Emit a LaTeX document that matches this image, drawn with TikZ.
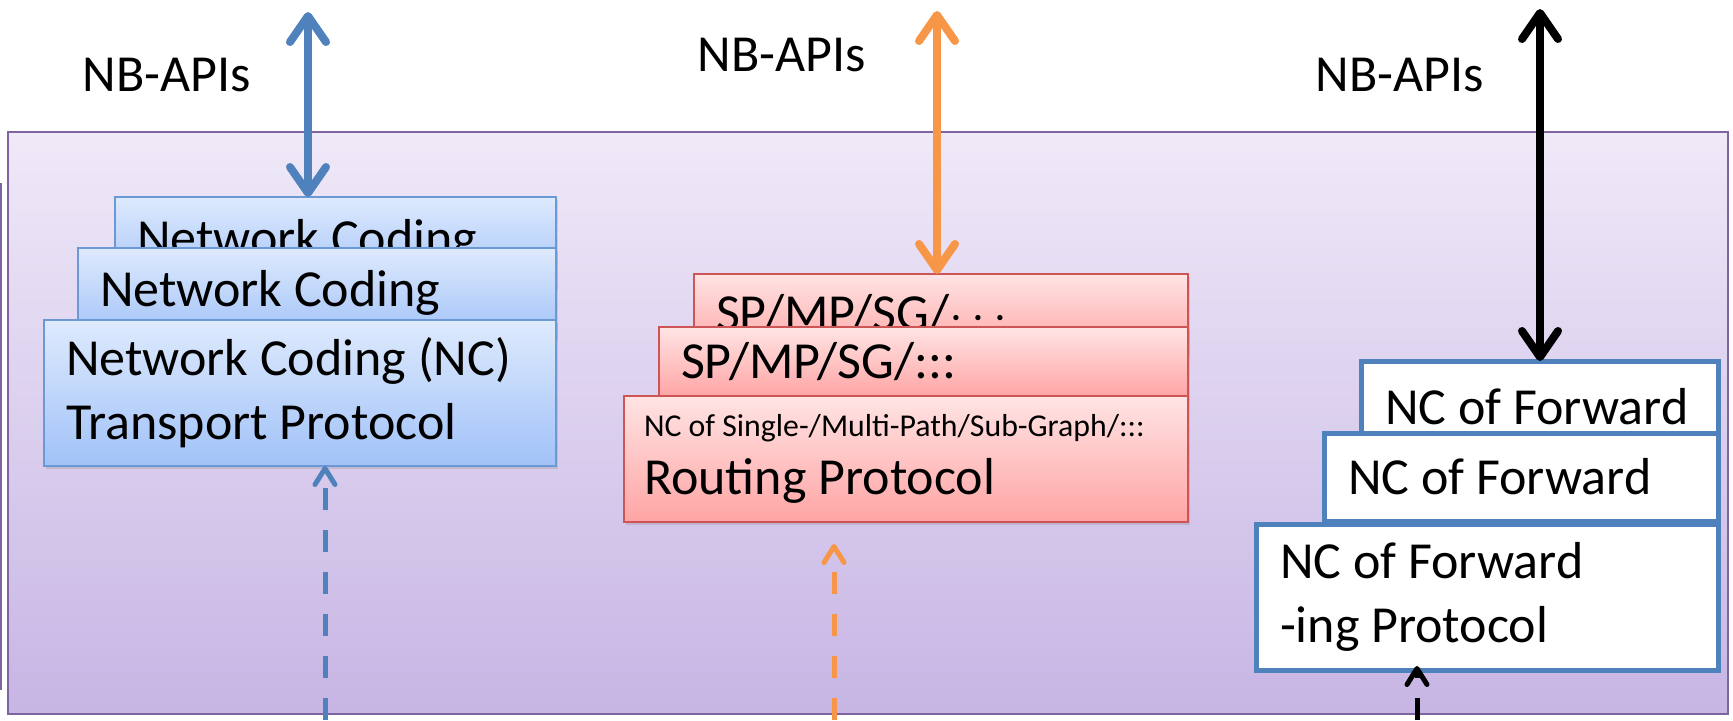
\documentclass[tikz,border=0pt]{standalone}
\usepackage{fontspec}
\setmainfont{Carlito}
\usetikzlibrary{arrows.meta,shadows}
\definecolor{ncblue}{HTML}{4F81BD}
\definecolor{ncorange}{HTML}{F79646}
\definecolor{ncpurple}{HTML}{8064A2}
\definecolor{paneltop}{RGB}{239,233,248}
\definecolor{panelbot}{RGB}{199,181,228}
\definecolor{bluetop}{RGB}{222,234,253}
\definecolor{bluebot}{RGB}{161,194,248}
\definecolor{blueedge}{RGB}{108,152,212}
\definecolor{redtop}{RGB}{255,228,228}
\definecolor{redbot}{RGB}{255,164,164}
\definecolor{rededge}{RGB}{205,85,85}
\newcommand\ncfont{\fontsize{26}{32}\selectfont\hyphenpenalty=10000\relax}
\begin{document}
\begin{tikzpicture}[x=0.5pt, y=-0.5pt,
        font=\ncfont,
        panel/.style={draw=ncpurple, line width=1pt, top color=paneltop, bottom color=panelbot},
        stk/.style={anchor=north west, align=flush left, inner xsep=11pt, inner ysep=0, outer sep=0},
        tp/.style={stk, draw=blueedge, line width=1pt, top color=bluetop, bottom color=bluebot,
            drop shadow={shadow xshift=1pt, shadow yshift=-1.5pt, opacity=.25}},
        rp/.style={stk, draw=rededge, line width=1pt, top color=redtop, bottom color=redbot,
            drop shadow={shadow xshift=1pt, shadow yshift=-1.5pt, opacity=.25}},
        fp/.style={stk, draw=ncblue, line width=2.5pt, fill=white, inner xsep=12pt},
        api/.style={line width=4pt,
            {Straight Barb[length=13pt, width=18pt, round]}-{Straight Barb[length=13pt, width=18pt, round]}},
        feed/.style={line width=2.5pt, dash pattern=on 11pt off 10pt,
            -{Straight Barb[length=8pt, width=10pt, round]}},
    ]
    \useasboundingbox (0,0) rectangle (1733,720);
    \draw[panel] (8,132) rectangle (1728,714);
    \draw[ncpurple, line width=1pt] (1,183) -- (1,690);

    \node (nbT) at (167,75) {NB-APIs};
    \node (nbR) at (782,55) {NB-APIs};
    \node (nbF) at (1400,75) {NB-APIs};

    \node[tp, text width=198.5pt, minimum height=45pt] (nc3) at (115,197) {Network Coding};
    \node[tp, text width=217pt, minimum height=45pt] (nc2) at (78,248) {Network Coding};
    \node[tp, text width=234pt, minimum height=73pt] (nc1) at (44,320) {Network Coding (NC)\\Transport Protocol};

    \node[rp, text width=225pt, minimum height=40pt] (rt3) at (694,274) {SP/MP/SG/$\cdots$};
    \node[rp, text width=242.5pt, minimum height=35pt] (rt2) at (659,327) {SP/MP/SG/:::};
    \node[rp, inner xsep=10pt, text width=262pt, minimum height=63pt] (rt1) at (624,396)
        {{\fontsize{15.9}{18}\selectfont NC of Single-/Multi-Path/Sub-Graph/:::}\\[-3pt]Routing Protocol};

    \node[fp, text width=154.5pt, minimum height=46pt] (fw3) at (1361,361) {NC of Forward};
    \node[fp, text width=173pt, minimum height=44pt] (fw2) at (1324,433) {NC of Forward};
    \node[fp, text width=207pt, minimum height=73pt] (fw1) at (1256,524) {NC of Forward\\-ing Protocol};

    \coordinate (tTop) at (308,12);
    \coordinate (rTop) at (937,11);
    \coordinate (fTop) at (1540,9);
    \coordinate (tBot) at (325,720);
    \coordinate (rBot) at (834,720);
    \coordinate (fBot) at (1417,720);

    \draw[api, ncblue] (tTop) -- (tTop |- nc3.north);
    \draw[api, ncorange] (rTop) -- (rTop |- rt3.north);
    \draw[api, black] (fTop) -- (fTop |- fw3.north);

    \draw[feed, ncblue] (tBot) -- (tBot |- nc1.south);
    \draw[feed, ncorange] (rBot) -- ([yshift=-11pt]rBot |- rt1.south);
    \draw[feed, black] (fBot) -- ([yshift=2pt]fBot |- fw1.south);
\end{tikzpicture}
\end{document}
